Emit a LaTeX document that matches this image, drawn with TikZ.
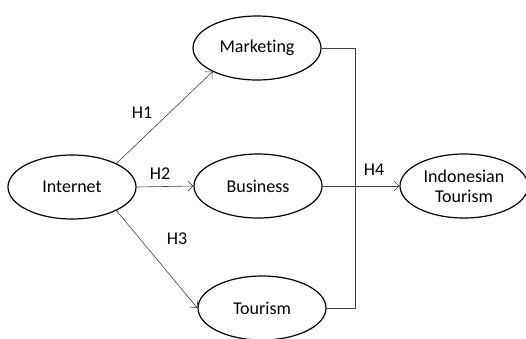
\documentclass[tikz,border=0pt]{standalone}
\usepackage{fontspec}
\setmainfont{Carlito}[Ligatures=NoCommon]
\usetikzlibrary{shapes.geometric,arrows.meta}
\tikzset{
  var/.style={draw, ellipse, line width=1.2pt, minimum width=128pt, minimum height=64pt, inner sep=0pt, font=\fontsize{18}{20}\selectfont, align=center},
  link/.style={-{Straight Barb[length=5pt,width=10pt]}, draw=black!75, line width=0.6pt},
  hyp/.style={font=\fontsize{18}{20}\selectfont}
}
\begin{document}
\begin{tikzpicture}[x=1pt,y=-1pt]
    \useasboundingbox (0,0) rectangle (526,338);

    % Variables
    \node[var] (internet) at (72,187) {Internet};
    \node[var] (marketing) at (257,48) {Marketing};
    \node[var] (business) at (258,186) {Business};
    \node[var] (tourism) at (262,308) {Tourism};
    \node[var] (indo) at (464,186) {Indonesian\\Tourism};

    % Paths from Internet
    \draw[link] (internet.28) -- (marketing.208);
    \draw[link] (internet.east) -- (business.west);
    \draw[link] (internet.332) -- (tourism.west);

    % Joining line
    \coordinate (jbot) at (355,308);
    \draw[draw=black!75, line width=0.6pt] (marketing.east) -| (jbot) -- (tourism.east);
    \draw[link] (business.east) -- (indo.west);

    % Labels
    \node[hyp] (h1) at (142,113) {H1};
    \node[hyp] (h2) at (160,174) {H2};
    \node[hyp] (h3) at (177,239) {H3};
    \node[hyp] (h4) at (374,170) {H4};
\end{tikzpicture}
\end{document}
